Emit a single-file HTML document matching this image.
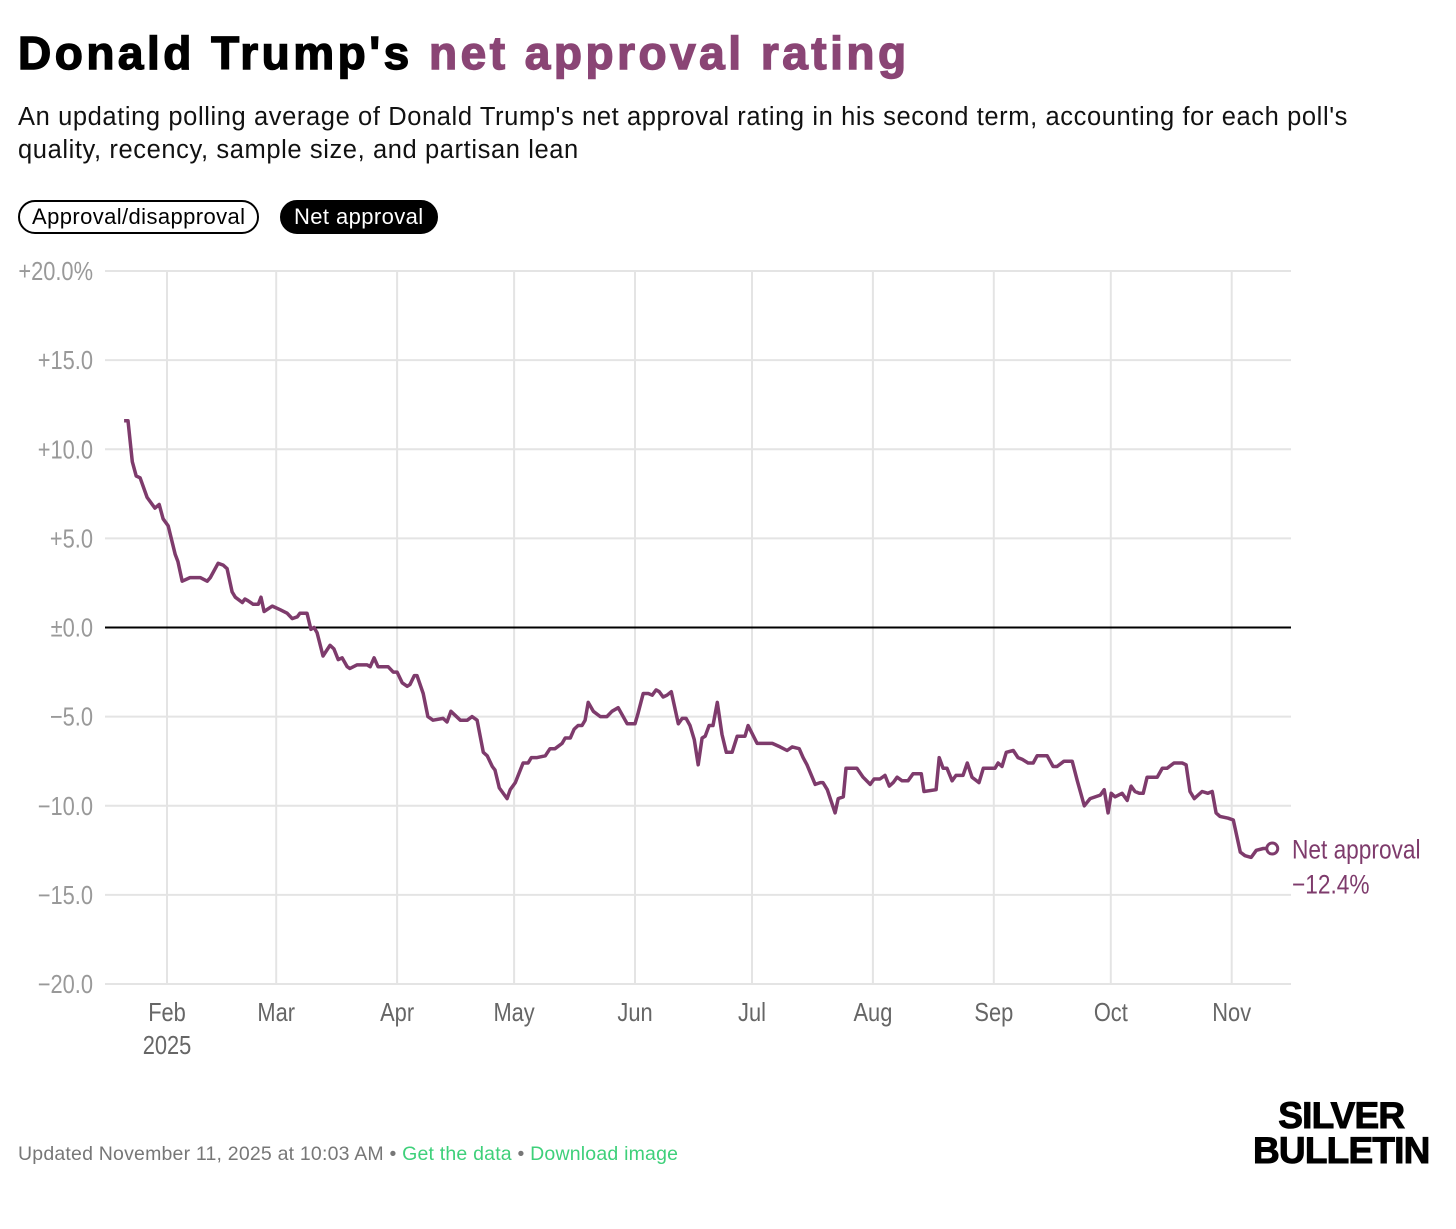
<!DOCTYPE html>
<html><head><meta charset="utf-8">
<style>
body{margin:0;width:1456px;height:1229px;background:#fff;font-family:"Liberation Sans",sans-serif;overflow:hidden;position:relative}
.t{position:absolute;white-space:nowrap}
.pill{position:absolute;top:200px;height:30px;border:2px solid #000;border-radius:17px;font-size:22px;line-height:30px;padding:0 12px;letter-spacing:0.4px}
</style></head><body>
<div class="t" style="left:18px;top:26px;font-size:46px;font-weight:900;letter-spacing:3.5px;-webkit-text-stroke:1.4px currentColor">Donald Trump's <span style="color:#8a4575">net approval rating</span></div>
<div class="t" style="left:18px;top:101px;font-size:25.5px;line-height:33px;color:#111;white-space:normal;width:1370px;letter-spacing:0.6px">An updating polling average of Donald Trump's net approval rating in his second term, accounting for each poll's quality, recency, sample size, and partisan lean</div>
<div class="pill" style="left:18px">Approval/disapproval</div>
<div class="pill" style="left:280px;background:#000;color:#fff">Net approval</div>
<svg id="chart" width="1456" height="1229" style="position:absolute;left:0;top:0"></svg>
<div class="t" style="left:18px;top:1143px;font-size:19.5px;letter-spacing:0.2px;color:#777">Updated November 11, 2025 at 10:03 AM • <span style="color:#3ed07a">Get the data</span> • <span style="color:#3ed07a">Download image</span></div>
<div class="t" style="left:1253px;top:1098px;font-size:37px;font-weight:900;line-height:35px;text-align:center;letter-spacing:-0.8px;-webkit-text-stroke:1px #000">SILVER<br>BULLETIN</div>
<script>
const yTicks=[20,15,10,5,0,-5,-10,-15,-20];
const yTickLabels=["+20.0%","+15.0","+10.0","+5.0","±0.0","−5.0","−10.0","−15.0","−20.0"];
const monthDays=[31,59,90,120,151,181,212,243,273,304];
const monthLabels=["Feb","Mar","Apr","May","Jun","Jul","Aug","Sep","Oct","Nov"];
const days=[20,21,22.1,23.1,24.1,25.9,27.9,29,30,31.3,33.1,33.8,34.9,36.9,39.5,41.3,42.1,44.1,45.4,46.4,47.7,48.5,50.3,51,51.8,53.1,54.4,55.1,55.9,58,60,61.8,63.1,64.4,65.1,66.9,67.9,68.7,69.5,71,72.8,73.8,74.9,75.9,77.2,77.9,79.7,82.3,83.1,84.1,85.1,87.7,89,90,91.3,92.6,93.3,94.4,95.1,96.7,97.9,99.2,101.8,102.8,103.8,106.2,108,109.2,110.5,112.1,113.1,114.4,115.1,116.2,118.2,119,120.3,122.3,123.6,124.4,125.9,128,129.2,130.5,132.3,133.1,134.4,135.4,136.4,137.4,138.2,139,140.3,142.1,143.8,145.1,146.7,149,151,151.8,153.1,154.4,155.4,156.4,157.2,158.2,159.2,160.3,162.1,163.1,164.1,165.1,166.2,167.2,168.2,169,170,171,172.1,173.3,174.4,175.9,177.2,179.2,180,182.3,183.8,186.2,188.2,190,191.3,193.1,194.1,195.1,197.2,198.5,199.2,200.3,202.3,203.1,204.4,205.1,207.9,209.5,211.3,212.3,213.8,215.1,216.2,217.2,218.2,219.5,221,222.3,224.4,225.1,228.2,229,230,231,232.3,233.3,235.1,236.2,237.4,239.2,240.3,243.3,244.1,245.1,246.2,248,249.2,250.3,251.8,253.1,254.1,256.7,258.2,259.2,261,263.1,264.4,266.2,267.7,270.3,271.3,272.3,273.1,274.1,275.9,277.2,278.2,279.2,280.3,281.3,282.3,284.9,286.2,287.4,289.2,291.3,292.3,293.3,294.4,296.4,297.9,299,300,301,303.1,304.4,306.2,307.4,309,310.3,312.1,314.4];
const netValues=[11.6,11.6,9.3,8.5,8.4,7.3,6.7,6.9,6.1,5.7,4.1,3.7,2.6,2.8,2.8,2.6,2.8,3.6,3.5,3.3,2.0,1.7,1.4,1.6,1.5,1.3,1.3,1.7,0.9,1.2,1.0,0.8,0.5,0.6,0.8,0.8,-0.1,0.0,-0.3,-1.6,-1.0,-1.2,-1.8,-1.7,-2.2,-2.3,-2.1,-2.1,-2.2,-1.7,-2.2,-2.2,-2.5,-2.5,-3.1,-3.3,-3.2,-2.7,-2.7,-3.7,-5.0,-5.2,-5.1,-5.3,-4.7,-5.2,-5.2,-5.0,-5.2,-7.0,-7.2,-7.8,-8.0,-9.0,-9.6,-9.1,-8.7,-7.6,-7.6,-7.3,-7.3,-7.2,-6.8,-6.8,-6.5,-6.2,-6.2,-5.7,-5.5,-5.5,-5.2,-4.2,-4.7,-5.0,-5.0,-4.7,-4.5,-5.4,-5.4,-4.8,-3.7,-3.7,-3.8,-3.5,-3.6,-3.9,-3.8,-3.6,-5.4,-5.1,-5.1,-5.5,-6.3,-7.7,-6.2,-6.1,-5.5,-5.5,-4.2,-6.0,-7.0,-7.0,-6.1,-6.1,-5.5,-6.5,-6.5,-6.5,-6.7,-6.9,-6.7,-6.8,-7.3,-7.7,-8.8,-8.7,-8.7,-9.1,-10.4,-9.6,-9.5,-7.9,-7.9,-8.4,-8.8,-8.5,-8.5,-8.3,-8.9,-8.7,-8.4,-8.6,-8.6,-8.2,-8.2,-9.2,-9.1,-7.3,-7.9,-7.9,-8.6,-8.3,-8.3,-7.6,-8.4,-8.7,-7.9,-7.9,-7.6,-7.8,-7.0,-6.9,-7.3,-7.4,-7.6,-7.6,-7.2,-7.2,-7.8,-7.8,-7.5,-7.5,-8.6,-10.0,-9.6,-9.4,-9.1,-10.4,-9.3,-9.5,-9.3,-9.7,-8.9,-9.2,-9.3,-9.3,-8.4,-8.4,-7.9,-7.9,-7.6,-7.6,-7.7,-9.2,-9.6,-9.2,-9.3,-9.2,-10.4,-10.6,-10.7,-10.8,-12.6,-12.8,-12.9,-12.5,-12.4,-12.4];
const svg=document.getElementById('chart');
const NS='http://www.w3.org/2000/svg';
const X0=105,X1=1291,SX=0.84;
const x=d=>167+(d-31)*3.9;
const y=v=>627.5-v*17.825;
function mk(tag,attrs){const e=document.createElementNS(NS,tag);for(const k in attrs)e.setAttribute(k,attrs[k]);svg.appendChild(e);return e;}
function narrow(tx,ty,anchor,size,fill){return mk('text',{x:0,y:0,transform:`translate(${tx},${ty}) scale(${SX},1)`,'text-anchor':anchor,'font-size':size,fill:fill,'font-family':'"Liberation Sans",sans-serif'});}
monthDays.forEach((d,i)=>{
  const l=mk('line',{x1:x(d),x2:x(d),y1:271,y2:984,stroke:'#e4e4e4','stroke-width':2});
  
  
  const t=narrow(x(d),1021,'middle',26,'#666');
  t.textContent=monthLabels[i];
  
  
});
const yr=narrow(x(31),1054,'middle',26,'#666');
yr.textContent='2025';


yTicks.forEach((v,i)=>{
  const l=mk('line',{x1:X0,x2:X1,y1:y(v),y2:y(v),stroke:v===0?'#000':'#e4e4e4','stroke-width':2});
  
  
  const t=narrow(93,y(v)+9,'end',26,'#999');
  t.textContent=yTickLabels[i];
  
  
});
const pts=days.map((d,i)=>x(d).toFixed(1)+','+y(netValues[i]).toFixed(1)).join(' ');
const pl=mk('polyline',{points:pts,fill:'none',stroke:'#7e3b6c','stroke-width':3.5,'stroke-linejoin':'round'});


const n=days.length-1;
const c=mk('circle',{cx:x(days[n]),cy:y(netValues[n]),r:5.5,fill:'#fff',stroke:'#7e3b6c','stroke-width':3});


const lt=narrow(1292,y(netValues[n])+10,'start',27,'#7e3b6c');
lt.textContent='Net approval';


const lv=narrow(1292,y(netValues[n])+45,'start',27,'#7e3b6c');
lv.textContent='−'+Math.abs(netValues[n]).toFixed(1)+'%';


</script>
</body></html>
